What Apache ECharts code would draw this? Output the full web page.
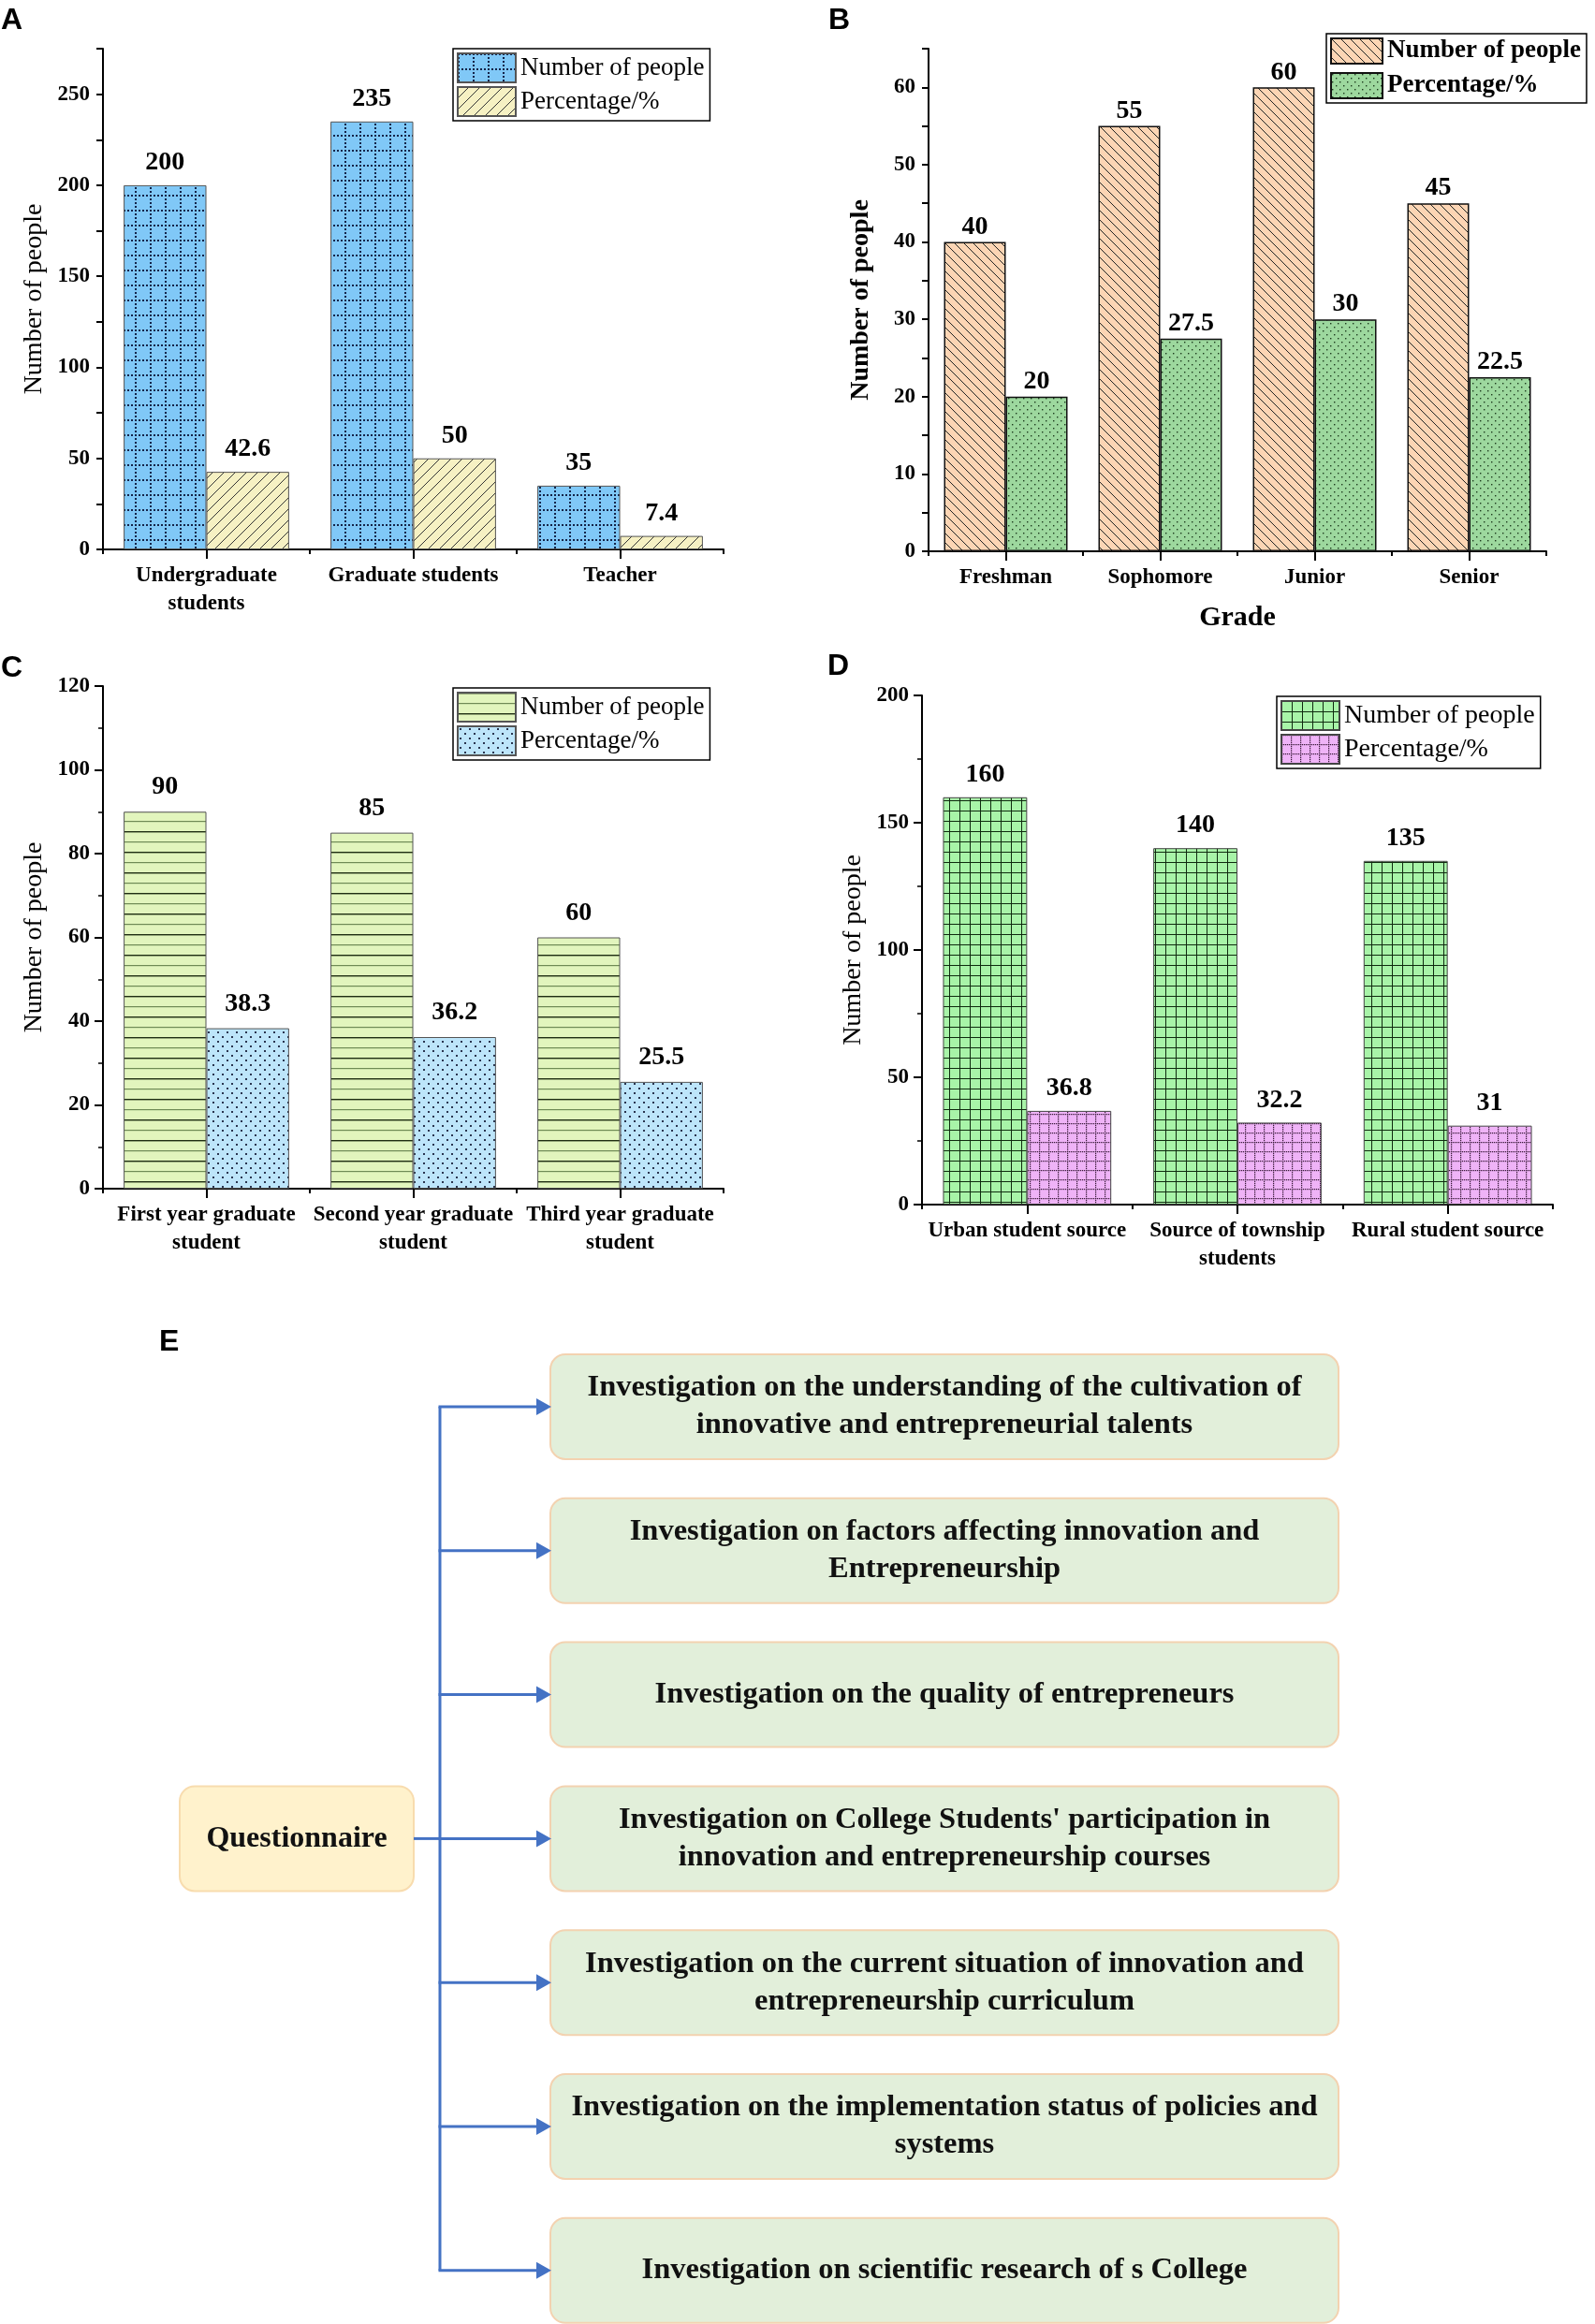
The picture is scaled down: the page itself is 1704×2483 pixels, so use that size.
<!DOCTYPE html>
<html>
<head>
<meta charset="utf-8">
<script src="https://cdn.jsdelivr.net/npm/echarts/dist/echarts.min.js"></script>
<style>
html,body{margin:0;padding:0;background:#fff;}
#page{position:relative;width:1704px;height:2483px;background:#fff;overflow:hidden;}
.p{position:absolute;}
</style>
</head>
<body>
<div id="page">
  <div id="cA" class="p" style="left:0;top:0;width:860px;height:690px"></div>
  <div id="cB" class="p" style="left:860px;top:0;width:844px;height:690px"></div>
  <div id="cC" class="p" style="left:0;top:690px;width:860px;height:690px"></div>
  <div id="cD" class="p" style="left:860px;top:690px;width:844px;height:690px"></div>
  <div id="cE" class="p" style="left:0;top:1380px;width:1704px;height:1103px"></div>
</div>
<script>
// ---------------- DATA ----------------
const seriesNames = ['Number of people', 'Percentage/%'];

const catsA = ['Undergraduate\nstudents', 'Graduate students', 'Teacher'];
const peopleA = [200, 235, 35];
const pctA = [42.6, 50, 7.4];

const catsB = ['Freshman', 'Sophomore', 'Junior', 'Senior'];
const peopleB = [40, 55, 60, 45];
const pctB = [20, 27.5, 30, 22.5];

const catsC = ['First year graduate\nstudent', 'Second year graduate\nstudent', 'Third year graduate\nstudent'];
const peopleC = [90, 85, 60];
const pctC = [38.3, 36.2, 25.5];

const catsD = ['Urban student source', 'Source of township\nstudents', 'Rural student source'];
const peopleD = [160, 140, 135];
const pctD = [36.8, 32.2, 31];

const yNameText = 'Number of people';
const xNameB = 'Grade';

const flowRoot = 'Questionnaire';
const flowItems = [
  'Investigation on the understanding of the cultivation of\ninnovative and entrepreneurial talents',
  'Investigation on factors affecting innovation and\nEntrepreneurship',
  'Investigation on the quality of entrepreneurs',
  "Investigation on College Students' participation in\ninnovation and entrepreneurship courses",
  'Investigation on the current situation of innovation and\nentrepreneurship curriculum',
  'Investigation on the implementation status of policies and\nsystems',
  'Investigation on scientific research of s College'
];

// ---------------- STYLE HELPERS ----------------
const SERIF = '"Liberation Serif", "Times New Roman", serif';
const SANS = '"Liberation Sans", Arial, sans-serif';

function tile(w, h, bg, draw) {
  const c = document.createElement('canvas');
  c.width = w; c.height = h;
  const g = c.getContext('2d');
  g.fillStyle = bg; g.fillRect(0, 0, w, h);
  draw(g, w, h);
  return { image: c, repeat: 'repeat' };
}

// A: blue with dotted grid, yellow with "/" hatch
const patA1 = tile(16, 16, '#80c8f7', (g) => {
  g.fillStyle = '#14244a';
  for (let i = 0; i < 16; i += 4) { g.fillRect(i, 0, 2, 2); g.fillRect(0, i, 2, 2); }
});
const patA2 = tile(12, 12, '#f6f1c3', (g) => {
  g.strokeStyle = '#333'; g.lineWidth = 1;
  g.beginPath();
  g.moveTo(0, 12); g.lineTo(12, 0);
  g.moveTo(-2, 2); g.lineTo(2, -2);
  g.moveTo(10, 14); g.lineTo(14, 10);
  g.stroke();
});
// B: peach with "\" hatch, green with dots
const patB1 = tile(10, 10, '#fcd5b4', (g) => {
  g.strokeStyle = '#222'; g.lineWidth = 1;
  g.beginPath();
  g.moveTo(0, 0); g.lineTo(10, 10);
  g.moveTo(-2, 8); g.lineTo(2, 12);
  g.moveTo(8, -2); g.lineTo(12, 2);
  g.stroke();
});
const patB2 = tile(8, 8, '#9dd89e', (g) => {
  g.fillStyle = '#1d3a1d';
  g.fillRect(1, 1, 1.4, 1.4); g.fillRect(5, 5, 1.4, 1.4);
});
// C: light green with horizontal lines, light blue with staggered dots
const patC1 = tile(4, 22, '#e2f5bd', (g) => {
  g.fillStyle = '#1f2e12'; g.fillRect(0, 0, 4, 1.4);
  g.fillStyle = '#6f8a55'; g.fillRect(0, 11, 4, 1.2);
});
const patC2 = tile(10, 10, '#bde5fa', (g) => {
  g.fillStyle = '#2a3550';
  g.fillRect(2, 2, 2, 2); g.fillRect(7, 7, 2, 2);
});
// D: green with solid grid, violet with dotted grid
const patD1 = tile(11, 11, '#a8f4a8', (g) => {
  g.fillStyle = '#0f2a0f'; g.fillRect(0, 0, 11, 1); g.fillRect(0, 0, 1, 11);
});
const patD2 = tile(10, 10, '#efb3f7', (g) => {
  g.fillStyle = '#3a1a3a';
  for (let i = 0; i < 10; i += 2) { g.fillRect(i, 0, 1.2, 1.2); g.fillRect(0, i, 1.2, 1.2); }
});

// ---------------- BAR PANEL BUILDER ----------------
function buildPanel(el, cfg) {
  const chart = echarts.init(document.getElementById(el), null, { renderer: 'canvas' });
  const gridRect = { left: cfg.grid[0], top: cfg.grid[1], width: cfg.grid[2], height: cfg.grid[3] };
  const yAxisMain = {
    type: 'value', gridIndex: 0, min: 0, max: cfg.yMax, interval: cfg.yInterval,
    name: yNameText, nameLocation: 'middle', nameGap: cfg.yNameGap,
    nameTextStyle: { fontFamily: SERIF, fontSize: 28, fontWeight: cfg.yNameBold ? 'bold' : 'normal', color: '#000' },
    axisLine: { show: true, lineStyle: { color: '#000', width: 2 } },
    axisTick: { show: true, inside: false, length: cfg.tickLen, lineStyle: { color: '#000', width: 2 } },
    axisLabel: {
      show: true, margin: 14, fontFamily: SERIF, fontSize: 23, fontWeight: 'bold', color: '#000',
      formatter: (v) => (v % cfg.labelEvery === 0 ? String(v) : '')
    },
    splitLine: { show: false }
  };
  if (cfg.minor) {
    yAxisMain.minorTick = { show: true, splitNumber: 2, length: 5, lineStyle: { color: '#000', width: 1.5 } };
  }
  const xMain = {
    type: 'category', gridIndex: 0, data: cfg.cats,
    axisLine: { show: true, lineStyle: { color: '#000', width: 2 } },
    axisTick: { show: true, alignWithLabel: false, length: 5, lineStyle: { color: '#000', width: 2 } },
    axisLabel: { show: true, margin: 13, interval: 0, fontFamily: SERIF, fontSize: 23, fontWeight: 'bold', color: '#000', lineHeight: 30 },
    splitLine: { show: false }
  };
  if (cfg.xName) {
    xMain.name = cfg.xName; xMain.nameLocation = 'middle'; xMain.nameGap = 56;
    xMain.nameTextStyle = { fontFamily: SERIF, fontSize: 30, fontWeight: 'bold', color: '#000' };
  }
  const labelStyle = {
    show: true, position: 'top', distance: cfg.labelDist,
    fontFamily: SERIF, fontSize: 28, fontWeight: 'bold', color: '#000'
  };
  const option = {
    animation: false,
    backgroundColor: '#fff',
    graphic: [{
      type: 'text', left: cfg.letterPos[0], top: cfg.letterPos[1],
      style: { text: cfg.letter, fontFamily: SANS, fontSize: 32, fontWeight: 'bold', fill: '#000' }
    }],
    legend: {
      show: true, left: cfg.legend[0], top: cfg.legend[1], orient: 'vertical',
      itemWidth: cfg.legendItem[0], itemHeight: cfg.legendItem[1], itemGap: cfg.legendItem[2],
      padding: [4, 6, 4, 4], borderColor: '#000', borderWidth: 1.5, icon: 'rect',
      selectedMode: false,
      textStyle: { fontFamily: SERIF, fontSize: cfg.legendFont, fontWeight: cfg.legendBold ? 'bold' : 'normal', color: '#000' },
      data: seriesNames
    },
    grid: [Object.assign({ containLabel: false }, gridRect), Object.assign({ containLabel: false }, gridRect)],
    xAxis: [xMain, {
      type: 'category', gridIndex: 1, data: cfg.cats, position: 'bottom',
      axisLine: { show: false }, axisLabel: { show: false }, splitLine: { show: false },
      axisTick: { show: true, alignWithLabel: true, length: 10, lineStyle: { color: '#000', width: 2 } }
    }],
    yAxis: [yAxisMain, { type: 'value', gridIndex: 1, min: 0, max: cfg.yMax, show: false }],
    series: [
      {
        name: seriesNames[0], type: 'bar', xAxisIndex: 0, yAxisIndex: 0, data: cfg.people,
        barGap: '0%', barCategoryGap: '20%',
        itemStyle: { color: cfg.pat[0], borderColor: cfg.border, borderWidth: cfg.borderW },
        label: labelStyle
      },
      {
        name: seriesNames[1], type: 'bar', xAxisIndex: 0, yAxisIndex: 0, data: cfg.pct,
        barGap: '0%', barCategoryGap: '20%',
        itemStyle: { color: cfg.pat[1], borderColor: cfg.border, borderWidth: cfg.borderW },
        label: labelStyle
      }
    ]
  };
  chart.setOption(option);
  return chart;
}

buildPanel('cA', {
  letter: 'A', letterPos: [1, 6], grid: [110, 52, 663, 535],
  cats: catsA, people: peopleA, pct: pctA, yMax: 275, yInterval: 25, labelEvery: 50, tickLen: 7, minor: false,
  yNameGap: 54, yNameBold: false, labelDist: 10, legend: [484, 52], legendItem: [62, 31, 3], legendBold: false, legendFont: 27,
  pat: [patA1, patA2], border: '#555', borderW: 1
});
buildPanel('cB', {
  letter: 'B', letterPos: [25, 6], grid: [132, 52, 660, 537],
  cats: catsB, people: peopleB, pct: pctB, yMax: 65, yInterval: 5, labelEvery: 10, tickLen: 7, minor: false,
  yNameGap: 58, yNameBold: true, labelDist: 2, legend: [557, 36], legendItem: [55, 27, 8], legendBold: true, legendFont: 27,
  pat: [patB1, patB2], border: '#111', borderW: 1.5, xName: xNameB
});
buildPanel('cC', {
  letter: 'C', letterPos: [1, 8], grid: [110, 43, 663, 537],
  cats: catsC, people: peopleC, pct: pctC, yMax: 120, yInterval: 20, labelEvery: 20, tickLen: 9, minor: true,
  yNameGap: 54, yNameBold: false, labelDist: 12, legend: [484, 45], legendItem: [62, 31, 3], legendBold: false, legendFont: 27,
  pat: [patC1, patC2], border: '#555', borderW: 1
});
buildPanel('cD', {
  letter: 'D', letterPos: [24, 6], grid: [125, 53, 674, 544],
  cats: catsD, people: peopleD, pct: pctD, yMax: 200, yInterval: 50, labelEvery: 50, tickLen: 9, minor: true,
  yNameGap: 56, yNameBold: false, labelDist: 10, legend: [504, 54], legendItem: [62, 31, 3], legendBold: false, legendFont: 28,
  pat: [patD1, patD2], border: '#444', borderW: 1
});

// ---------------- PANEL E (flow diagram) ----------------
(function () {
  const chart = echarts.init(document.getElementById('cE'), null, { renderer: 'canvas' });
  const LINE = '#4472c4';
  const boxX = 588, boxW = 842, boxH = 112, top0 = 67, step = 153.8;
  const trunkX = 470;
  const els = [];
  els.push({ type: 'text', x: 170, y: 38, style: { text: 'E', fontFamily: SANS, fontSize: 32, fontWeight: 'bold', fill: '#000' } });
  const centers = flowItems.map((t, i) => top0 + i * step + boxH / 2);
  // trunk
  els.push({ type: 'line', shape: { x1: trunkX, y1: centers[0], x2: trunkX, y2: centers[centers.length - 1] }, style: { stroke: LINE, lineWidth: 3 } });
  flowItems.forEach((t, i) => {
    const y = top0 + i * step, cy = centers[i];
    els.push({ type: 'rect', shape: { x: boxX, y: y, width: boxW, height: boxH, r: 16 }, style: { fill: '#e2efda', stroke: '#f3d2b0', lineWidth: 2 } });
    els.push({ type: 'text', x: boxX + boxW / 2, y: cy, style: { text: t, align: 'center', verticalAlign: 'middle', fontFamily: SERIF, fontSize: 32.5, fontWeight: 'bold', fill: '#111', lineHeight: 40 } });
    els.push({ type: 'line', shape: { x1: trunkX - 1.5, y1: cy, x2: boxX - 12, y2: cy }, style: { stroke: LINE, lineWidth: 3 } });
    els.push({ type: 'polygon', shape: { points: [[boxX - 15, cy - 9], [boxX + 1, cy], [boxX - 15, cy + 9]] }, style: { fill: LINE } });
  });
  // root box
  const rootIdx = 3, rootY = top0 + rootIdx * step;
  els.push({ type: 'rect', shape: { x: 192, y: rootY, width: 250, height: boxH, r: 16 }, style: { fill: '#fff2cc', stroke: '#f8dcae', lineWidth: 2 } });
  els.push({ type: 'text', x: 317, y: centers[rootIdx], style: { text: flowRoot, align: 'center', verticalAlign: 'middle', fontFamily: SERIF, fontSize: 32, fontWeight: 'bold', fill: '#111' } });
  els.push({ type: 'line', shape: { x1: 442, y1: centers[rootIdx], x2: trunkX, y2: centers[rootIdx] }, style: { stroke: LINE, lineWidth: 3 } });
  chart.setOption({ animation: false, backgroundColor: '#fff', graphic: els });
})();
</script>
</body>
</html>
